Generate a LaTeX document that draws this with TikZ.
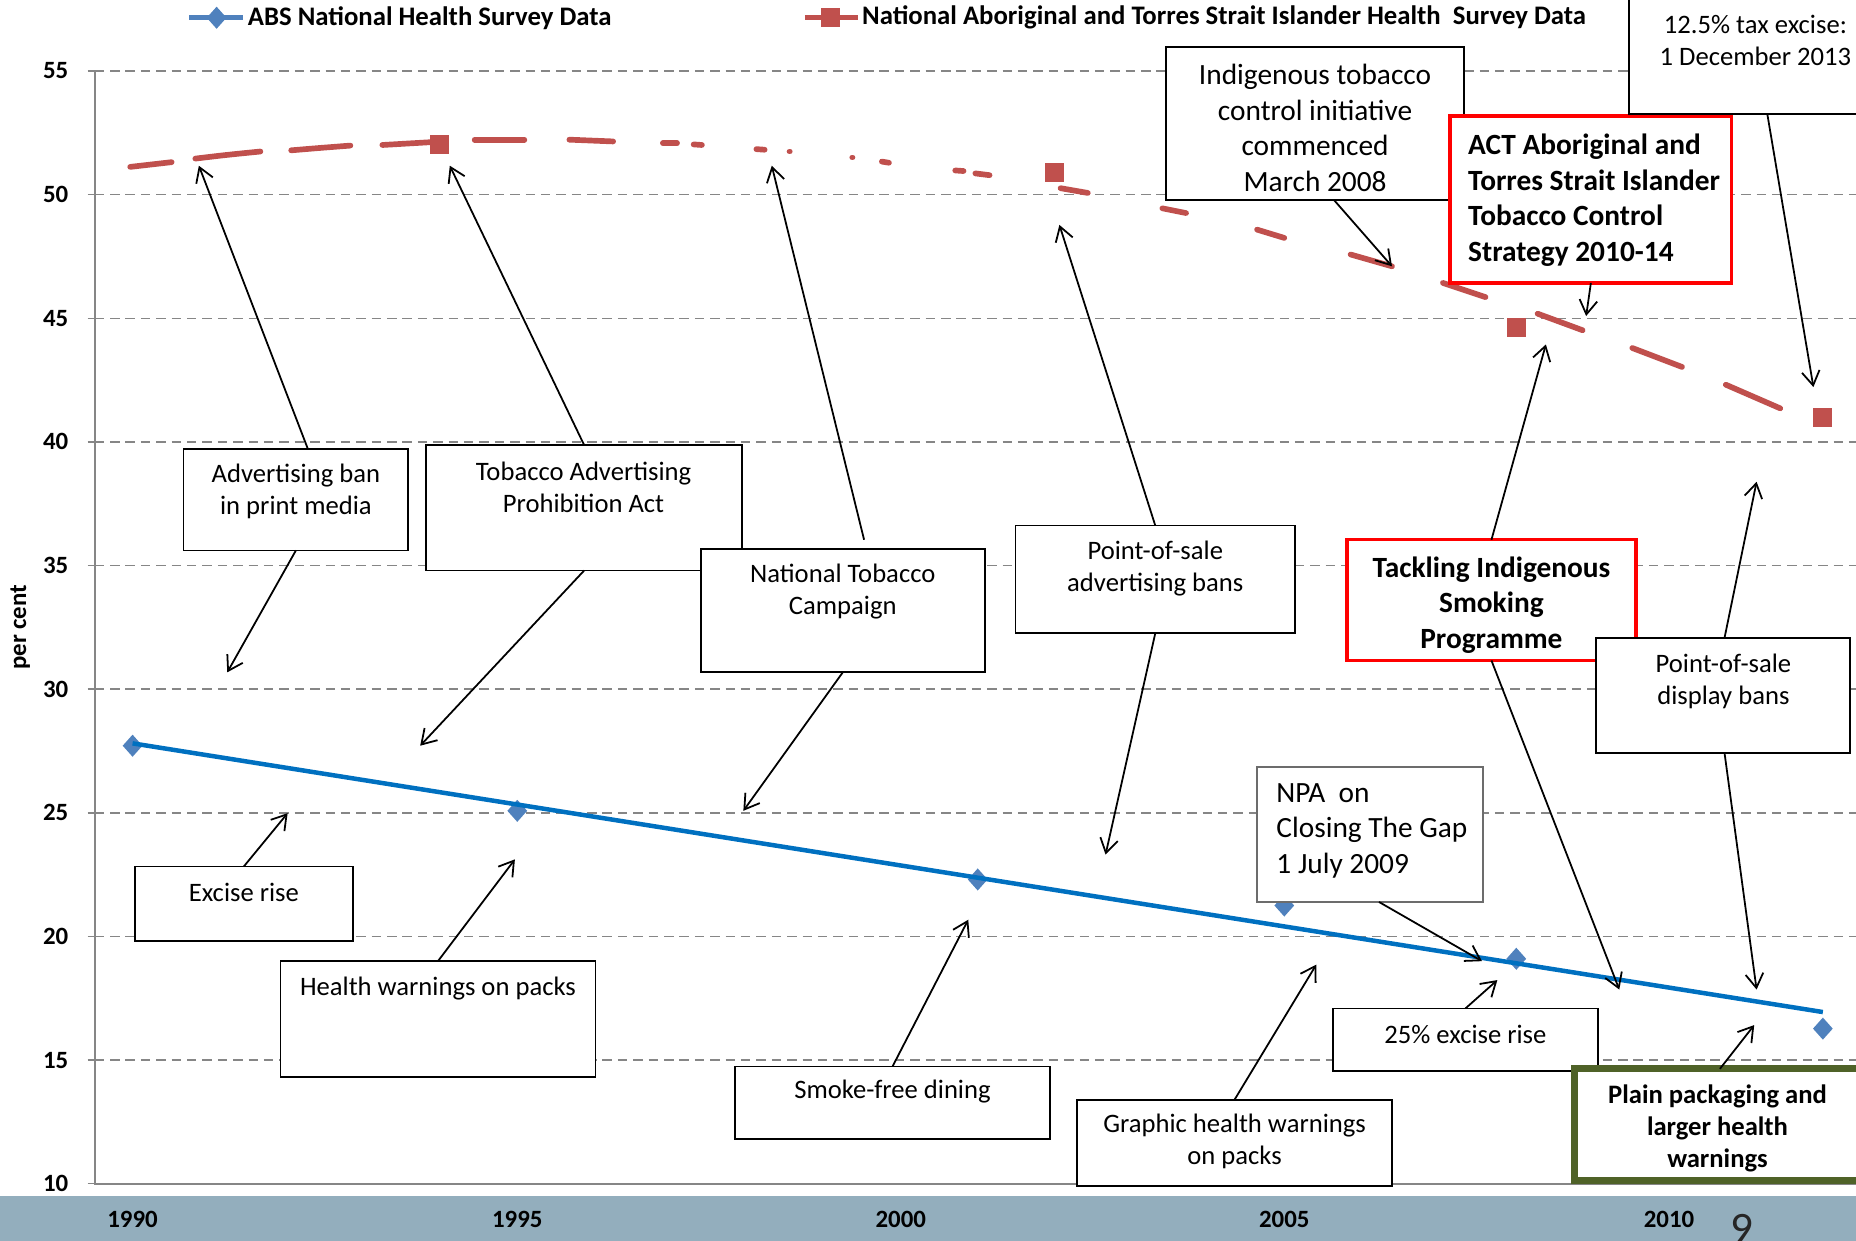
\documentclass[tikz,border=0pt]{standalone}
\usepackage{fontspec}
\setmainfont{Carlito}
\usetikzlibrary{shapes.geometric,arrows.meta}
\definecolor{bandc}{HTML}{93AEBD}
\definecolor{redbox}{HTML}{FF0000}
\definecolor{greenbox}{HTML}{4F6228}
\definecolor{dblue}{HTML}{4F81BD}
\definecolor{lblue}{HTML}{0070C0}
\definecolor{dred}{HTML}{C0504D}
\definecolor{gridc}{HTML}{868686}
\newcommand\mybox[6]{\node[frame,#6,minimum width={(#4-#2)*0.5pt},minimum height={(#5-#3)*0.5pt}] (#1) at ({(#2+#4)/2},{(#3+#5)/2}) {};}
\begin{document}
\begin{tikzpicture}[x=0.5pt,y=-0.5pt,
 frame/.style={draw=black,fill=white,line width=0.75pt,inner sep=0pt,outer sep=0pt},
 greyframe/.style={draw=gray!85!black,line width=0.6pt},
 redframe/.style={draw=redbox,line width=1.4pt},
 greenframe/.style={draw=greenbox,line width=3pt},
 lbl/.style={inner sep=0pt,align=center,font=\fontsize{11.25}{13.5}\selectfont},
 lblbig/.style={inner sep=0pt,align=center,font=\fontsize{12.4}{15}\selectfont},
 lblbf/.style={inner sep=0pt,align=center,font=\fontsize{12.4}{15}\selectfont\bfseries},
 arr/.style={draw=black,line width=0.75pt,-{Straight Barb[length=6pt,width=7.5pt,line width=0.75pt]}},
 gridl/.style={draw=gridc,line width=0.6pt,dash pattern=on 4pt off 2.5pt},
 diam/.style={diamond,fill=dblue,inner sep=0pt,minimum width=8.5pt,minimum height=9.5pt},
 rsq/.style={rectangle,fill=dred,inner sep=0pt,minimum size=8pt},
 rdash/.style={draw=dred,line width=2.4pt,line cap=round},
 tick/.style={font=\fontsize{10.5}{12}\selectfont\bfseries,inner sep=0pt}]
\useasboundingbox (0,0) rectangle (1568,1048);
\clip (0,0) rectangle (1568,1048);
% band
\fill[bandc] (0,1010) rectangle (1568,1048);
% grid
\foreach \v in {15,20,...,55}{
  \draw[gridl] (80,{60+(55-\v)*20.889}) -- (1568,{60+(55-\v)*20.889});
}
\foreach \v in {10,15,...,55}{
  \draw[gridc,line width=0.6pt] (74,{60+(55-\v)*20.889}) -- (80,{60+(55-\v)*20.889});
  \node[tick] (y\v) at (47,{60+(55-\v)*20.889}) {\v};
}
\draw[gridc,line width=0.9pt] (80,60) -- (80,1000) -- (1568,1000);
\node[tick,rotate=90] (ylab) at (17,530) {per cent};
% x labels
\node[tick] (x1990) at (112,1030) {1990};
\node[tick] (x1995) at (437,1030) {1995};
\node[tick] (x2000) at (761,1030) {2000};
\node[tick] (x2005) at (1085,1030) {2005};
\node[tick] (x2010) at (1410,1030) {2010};
\node[inner sep=0pt,font=\fontsize{19}{20}\selectfont,text=black!85] (pg) at (1472,1038) {9};
% legend
\coordinate (lb0) at (160,15); \coordinate (lb1) at (205,15);
\draw[dblue,line width=2.2pt] (lb0) -- (lb1);
\node[diam] (ld) at (183,15) {};
\node[anchor=west,inner sep=0pt,font=\fontsize{11.3}{13}\selectfont\bfseries] (leg1) at (209,15) {ABS National Health Survey Data};
\coordinate (lr0) at (680,15); \coordinate (lr1) at (725,15);
\draw[dred,line width=2.2pt] (lr0) -- (lr1);
\node[rsq] (lrs) at (702,15) {};
\node[anchor=west,inner sep=0pt,font=\fontsize{11.3}{13}\selectfont\bfseries] (leg2) at (728,15) {National Aboriginal and Torres Strait Islander Health\ \ Survey Data};
% red data
\node[rsq] (r1) at (371,122) {};
\node[rsq] (r2) at (891,146) {};
\node[rsq] (r3) at (1281,277) {};
\node[rsq] (r4) at (1540,353) {};
\draw[rdash] (110,141) -- (145,137);
\draw[rdash] (165,134) .. controls (190,131) .. (220,128);
\draw[rdash] (246,127) .. controls (270,125) .. (296,123);
\draw[rdash] (323,122.5) -- (366,120);
\draw[rdash] (401,118) -- (443,118);
\draw[rdash] (481,118) -- (518,119.5);
\draw[rdash] (560,121) -- (572,121);
\draw[rdash] (586,122) -- (593,122.5);
\draw[rdash] (639,126) -- (646,126.5);
\draw[rdash] (667,128) -- (667.2,128);
\draw[rdash] (720,133) -- (720.2,133);
\draw[rdash] (745,136.5) -- (751,137.5);
\draw[rdash] (807,144) -- (814,144.5);
\draw[rdash] (824,146.5) -- (836,148);
\draw[rdash] (896,159) -- (919,163);
\draw[rdash] (982,176) -- (1002,180);
\draw[rdash] (1062,194) -- (1085,201);
\draw[rdash] (1141,215) -- (1176,225);
\draw[rdash] (1219,239) -- (1255,251);
\draw[rdash] (1299,265) -- (1337,279);
\draw[rdash] (1379,294) -- (1421,310);
\draw[rdash] (1458,325) -- (1504,345);
% blue data
\node[diam] (d1) at (112,630) {};
\node[diam] (d2) at (437,685) {};
\node[diam] (d3) at (826,743) {};
\node[diam] (d4) at (1085,765) {};
\node[diam] (d5) at (1281,810) {};
\node[diam] (d6) at (1540,869) {};
\coordinate (b0) at (112,628); \coordinate (b1) at (1540,855);
\draw[lblue,line width=1.9pt] (b0) -- (b1);
% boxes
\mybox{adv}{155}{379}{345}{465}{}
\node[lbl] (advt) at (250,415) {Advertising ban\\in print media};
\mybox{tapa}{360}{376}{627}{482}{}
\node[lbl] (tapat) at (493,412) {Tobacco Advertising\\Prohibition Act};
\mybox{ntc}{592}{464}{832}{568}{}
\node[lbl] (ntct) at (712,500) {National Tobacco\\Campaign};
\mybox{posa}{858}{444}{1094}{535}{}
\node[lbl] (posat) at (976,480) {Point-of-sale\\advertising bans};
\mybox{itci}{985}{40}{1237}{169}{}
\node[lblbig] (itcit) at (1111,108) {Indigenous tobacco\\control initiative\\commenced\\March 2008};
\mybox{act}{1225}{98}{1463}{239}{redframe}
\node[lblbf,align=left,anchor=west] (actt) at (1240,169) {ACT Aboriginal and\\Torres Strait Islander\\Tobacco Control\\Strategy 2010-14};
\mybox{tax}{1376}{-10}{1580}{96}{}
\node[lbl] (taxt) at (1483,34) {12.5\% tax excise:\\1 December 2013};
\mybox{tis}{1138}{456}{1382}{558}{redframe}
\node[lblbf] (tist) at (1260,511) {Tackling Indigenous\\Smoking\\Programme};
\mybox{posd}{1348}{539}{1563}{636}{}
\node[lbl] (posdt) at (1456,576) {Point-of-sale\\display bans};
\mybox{npa}{1062}{648}{1253}{762}{greyframe}
\node[lblbig,align=left,anchor=west] (npat) at (1078,702) {NPA\ \ on\\Closing The Gap\\1 July 2009};
\mybox{exc}{114}{732}{298}{795}{}
\node[lbl] (exct) at (206,754) {Excise rise};
\mybox{hw}{237}{812}{503}{910}{}
\node[lbl] (hwt) at (370,835) {Health warnings on packs};
\mybox{sfd}{621}{901}{887}{962}{}
\node[lbl] (sfdt) at (754,922) {Smoke-free dining};
\mybox{ghw}{910}{929}{1176}{1002}{}
\node[lbl] (ghwt) at (1043,964) {Graphic health warnings\\on packs};
\mybox{exb}{1126}{852}{1350}{905}{}
\node[lbl] (exbt) at (1238,874) {25\% excise rise};
\mybox{pp}{1330}{903}{1580}{997}{greenframe}
\node[lbl,font=\fontsize{11.25}{13.5}\selectfont\bfseries] (ppt) at (1451,953) {Plain packaging and\\larger health\\warnings};
% arrow targets
\coordinate (t1) at (168,140);
\coordinate (t2) at (192,568);
\coordinate (t3) at (380,140);
\coordinate (t4) at (355,630);
\coordinate (t5) at (652,140);
\coordinate (t6) at (628,685);
\coordinate (t7) at (895,190);
\coordinate (t8) at (934,722);
\coordinate (t9) at (1176,225);
\coordinate (t10) at (1340,267);
\coordinate (t11) at (1532,327);
\coordinate (t12) at (1306,291);
\coordinate (t13) at (1368,836);
\coordinate (t14) at (1484,407);
\coordinate (t15) at (1484,836);
\coordinate (t16) at (1252,812);
\coordinate (t17) at (243,687);
\coordinate (t18) at (435,726);
\coordinate (t19) at (818,777);
\coordinate (t20) at (1112,815);
\coordinate (t21) at (1265,828);
\coordinate (t22) at (1482,866);
% arrows
\draw[arr] ([xshift=5pt]adv.north) -- (t1);
\draw[arr] (adv.south) -- (t2);
\draw[arr] (tapa.north) -- (t3);
\draw[arr] (tapa.south) -- (t4);
\draw[arr] ([xshift=9pt,yshift=4pt]ntc.north) -- (t5);
\draw[arr] (ntc.south) -- (t6);
\draw[arr] (posa.north) -- (t7);
\draw[arr] (posa.south) -- (t8);
\draw[arr] ([xshift=8pt]itci.south) -- (t9);
\draw[arr] (act.south) -- (t10);
\draw[arr] ([xshift=7.5pt]tax.south) -- (t11);
\draw[arr] (tis.north) -- (t12);
\draw[arr] (tis.south) -- (t13);
\draw[arr] ([xshift=0.7pt]posd.north) -- (t14);
\draw[arr] ([xshift=0.7pt]posd.south) -- (t15);
\draw[arr] ([xshift=3.75pt]npa.south) -- (t16);
\draw[arr] (exc.north) -- (t17);
\draw[arr] (hw.north) -- (t18);
\draw[arr] (sfd.north) -- (t19);
\draw[arr] (ghw.north) -- (t20);
\draw[arr] (exb.north) -- (t21);
\draw[arr] ([xshift=-1pt]pp.north) -- (t22);
\end{tikzpicture}
\end{document}
